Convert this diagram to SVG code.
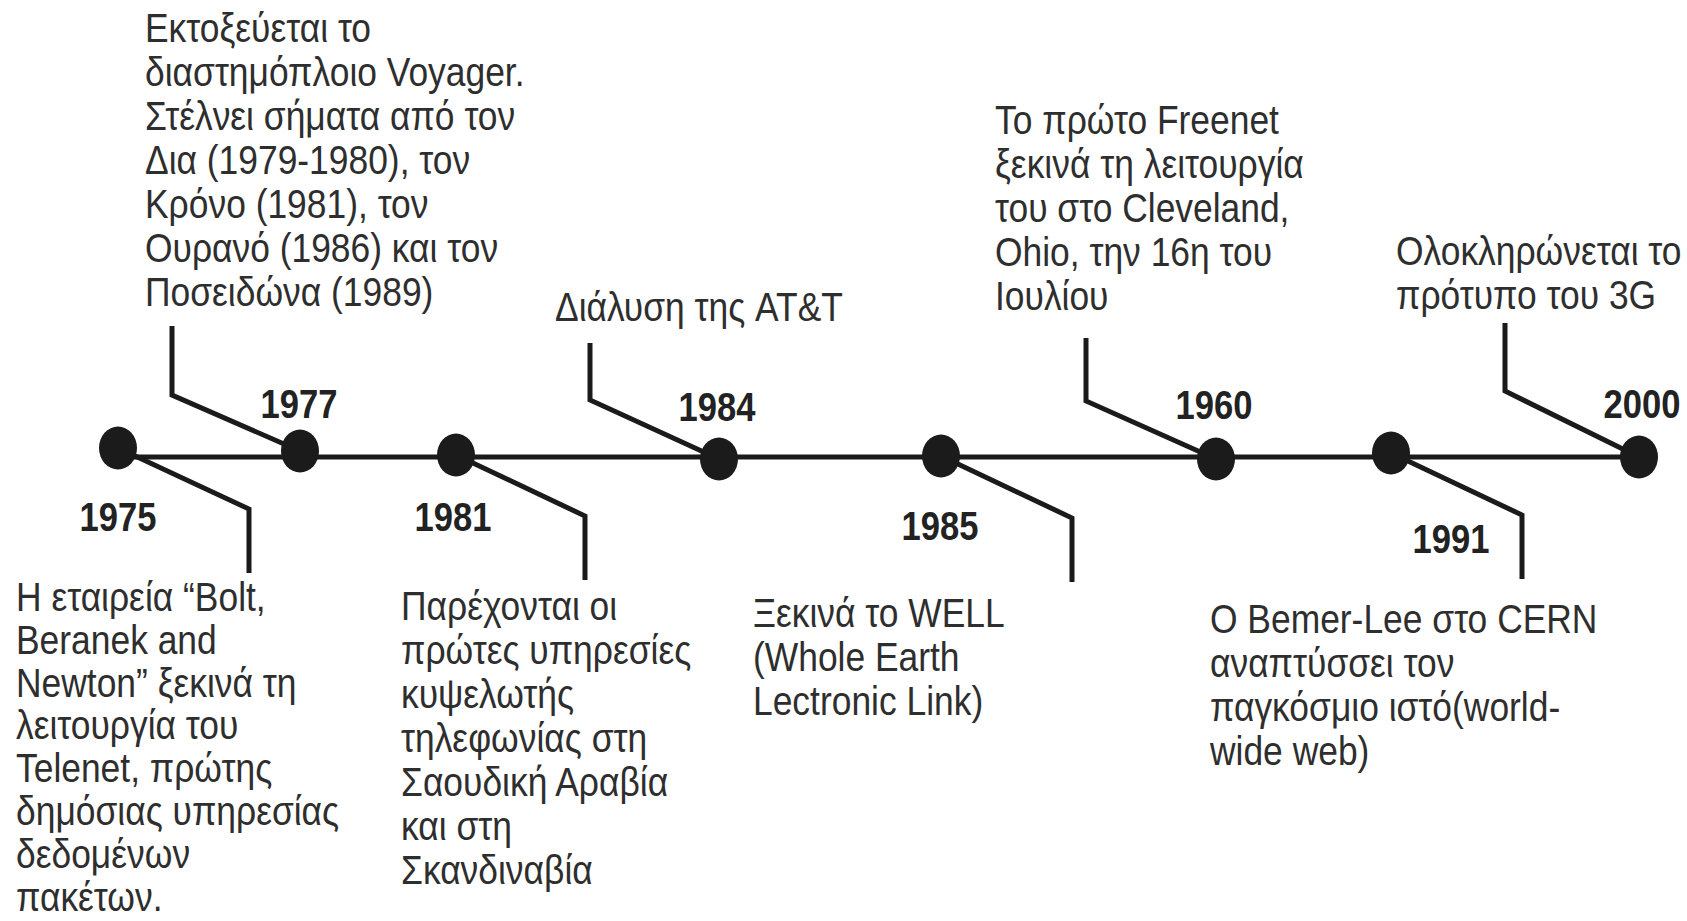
<svg xmlns="http://www.w3.org/2000/svg" width="1687" height="921" viewBox="0 0 1687 921">
  <style>
    .line { fill: none; stroke: #1b1b1b; stroke-width: 5; stroke-linejoin: miter; }
    .dot { fill: #1b1b1b; }
    .year { font-family: "Liberation Sans", Arial, sans-serif; font-weight: bold; font-size: 40px; fill: #222; text-anchor: middle; }
    .desc { font-family: "Liberation Sans", Arial, sans-serif; font-size: 40px; fill: #2e2e2e; }
  </style>
  <rect width="1687" height="921" fill="#ffffff"/>

  <!-- timeline axis and leader lines -->
  <g id="connectors">
    <line class="line" x1="118" y1="457" x2="1639" y2="457"/>
    <path class="line" d="M118,448 L249,509 V573"/>
    <path class="line" d="M172,326 V395 L300,451"/>
    <path class="line" d="M456,455 L585,516 V580"/>
    <path class="line" d="M590,343 V400 L719,459"/>
    <path class="line" d="M941,456 L1072,518 V582"/>
    <path class="line" d="M1086,338 V401 L1216,459"/>
    <path class="line" d="M1391,453 L1522,515 V579"/>
    <path class="line" d="M1505,323 V391 L1639,457"/>
  </g>

  <g id="node-1975">
    <ellipse class="dot" cx="118" cy="448" rx="19" ry="21.5"/>
    <text class="year" transform="translate(118 0) scale(0.865 1)" x="0" y="531">1975</text>
    <text class="desc" transform="translate(16 0) scale(0.885 1)" y="611">
      <tspan x="0">Η εταιρεία “Bolt,</tspan>
      <tspan x="0" dy="42.8">Beranek and</tspan>
      <tspan x="0" dy="42.8">Newton” ξεκινά τη</tspan>
      <tspan x="0" dy="42.8">λειτουργία του</tspan>
      <tspan x="0" dy="42.8">Telenet, πρώτης</tspan>
      <tspan x="0" dy="42.8">δημόσιας υπηρεσίας</tspan>
      <tspan x="0" dy="42.8">δεδομένων</tspan>
      <tspan x="0" dy="42.8">πακέτων.</tspan>
    </text>
  </g>

  <g id="node-1977">
    <ellipse class="dot" cx="300" cy="451" rx="19" ry="21.5"/>
    <text class="year" transform="translate(299 0) scale(0.865 1)" x="0" y="418">1977</text>
    <text class="desc" transform="translate(145 0) scale(0.885 1)" y="42">
      <tspan x="0">Εκτοξεύεται το</tspan>
      <tspan x="0" dy="44">διαστημόπλοιο Voyager.</tspan>
      <tspan x="0" dy="44">Στέλνει σήματα από τον</tspan>
      <tspan x="0" dy="44">Δια (1979-1980), τον</tspan>
      <tspan x="0" dy="44">Κρόνο (1981), τον</tspan>
      <tspan x="0" dy="44">Ουρανό (1986) και τον</tspan>
      <tspan x="0" dy="44">Ποσειδώνα (1989)</tspan>
    </text>
  </g>

  <g id="node-1981">
    <ellipse class="dot" cx="456" cy="455" rx="19" ry="21.5"/>
    <text class="year" transform="translate(453 0) scale(0.865 1)" x="0" y="531">1981</text>
    <text class="desc" transform="translate(401 0) scale(0.885 1)" y="620">
      <tspan x="0">Παρέχονται οι</tspan>
      <tspan x="0" dy="44">πρώτες υπηρεσίες</tspan>
      <tspan x="0" dy="44">κυψελωτής</tspan>
      <tspan x="0" dy="44">τηλεφωνίας στη</tspan>
      <tspan x="0" dy="44">Σαουδική Αραβία</tspan>
      <tspan x="0" dy="44">και στη</tspan>
      <tspan x="0" dy="44">Σκανδιναβία</tspan>
    </text>
  </g>

  <g id="node-1984">
    <ellipse class="dot" cx="719" cy="459" rx="19" ry="21.5"/>
    <text class="year" transform="translate(717 0) scale(0.865 1)" x="0" y="421">1984</text>
    <text class="desc" transform="translate(555 0) scale(0.885 1)" x="0" y="321">Διάλυση της AT&amp;T</text>
  </g>

  <g id="node-1985">
    <ellipse class="dot" cx="941" cy="456" rx="19" ry="21.5"/>
    <text class="year" transform="translate(940 0) scale(0.865 1)" x="0" y="540">1985</text>
    <text class="desc" transform="translate(753 0) scale(0.885 1)" y="627">
      <tspan x="0">Ξεκινά το WELL</tspan>
      <tspan x="0" dy="44">(Whole Earth</tspan>
      <tspan x="0" dy="44">Lectronic Link)</tspan>
    </text>
  </g>

  <g id="node-1960">
    <ellipse class="dot" cx="1216" cy="459" rx="19" ry="21.5"/>
    <text class="year" transform="translate(1214 0) scale(0.865 1)" x="0" y="419">1960</text>
    <text class="desc" transform="translate(995 0) scale(0.885 1)" y="134">
      <tspan x="0">Το πρώτο Freenet</tspan>
      <tspan x="0" dy="44">ξεκινά τη λειτουργία</tspan>
      <tspan x="0" dy="44">του στο Cleveland,</tspan>
      <tspan x="0" dy="44">Ohio, την 16η του</tspan>
      <tspan x="0" dy="44">Ιουλίου</tspan>
    </text>
  </g>

  <g id="node-1991">
    <ellipse class="dot" cx="1391" cy="453" rx="19" ry="21.5"/>
    <text class="year" transform="translate(1451 0) scale(0.865 1)" x="0" y="553">1991</text>
    <text class="desc" transform="translate(1210 0) scale(0.885 1)" y="633">
      <tspan x="0">Ο Bemer-Lee στο CERN</tspan>
      <tspan x="0" dy="44">αναπτύσσει τον</tspan>
      <tspan x="0" dy="44">παγκόσμιο ιστό(world-</tspan>
      <tspan x="0" dy="44">wide web)</tspan>
    </text>
  </g>

  <g id="node-2000">
    <ellipse class="dot" cx="1639" cy="457" rx="19" ry="21.5"/>
    <text class="year" transform="translate(1642 0) scale(0.865 1)" x="0" y="418">2000</text>
    <text class="desc" transform="translate(1396 0) scale(0.885 1)" y="265">
      <tspan x="0">Ολοκληρώνεται το</tspan>
      <tspan x="0" dy="44">πρότυπο του 3G</tspan>
    </text>
  </g>
</svg>
